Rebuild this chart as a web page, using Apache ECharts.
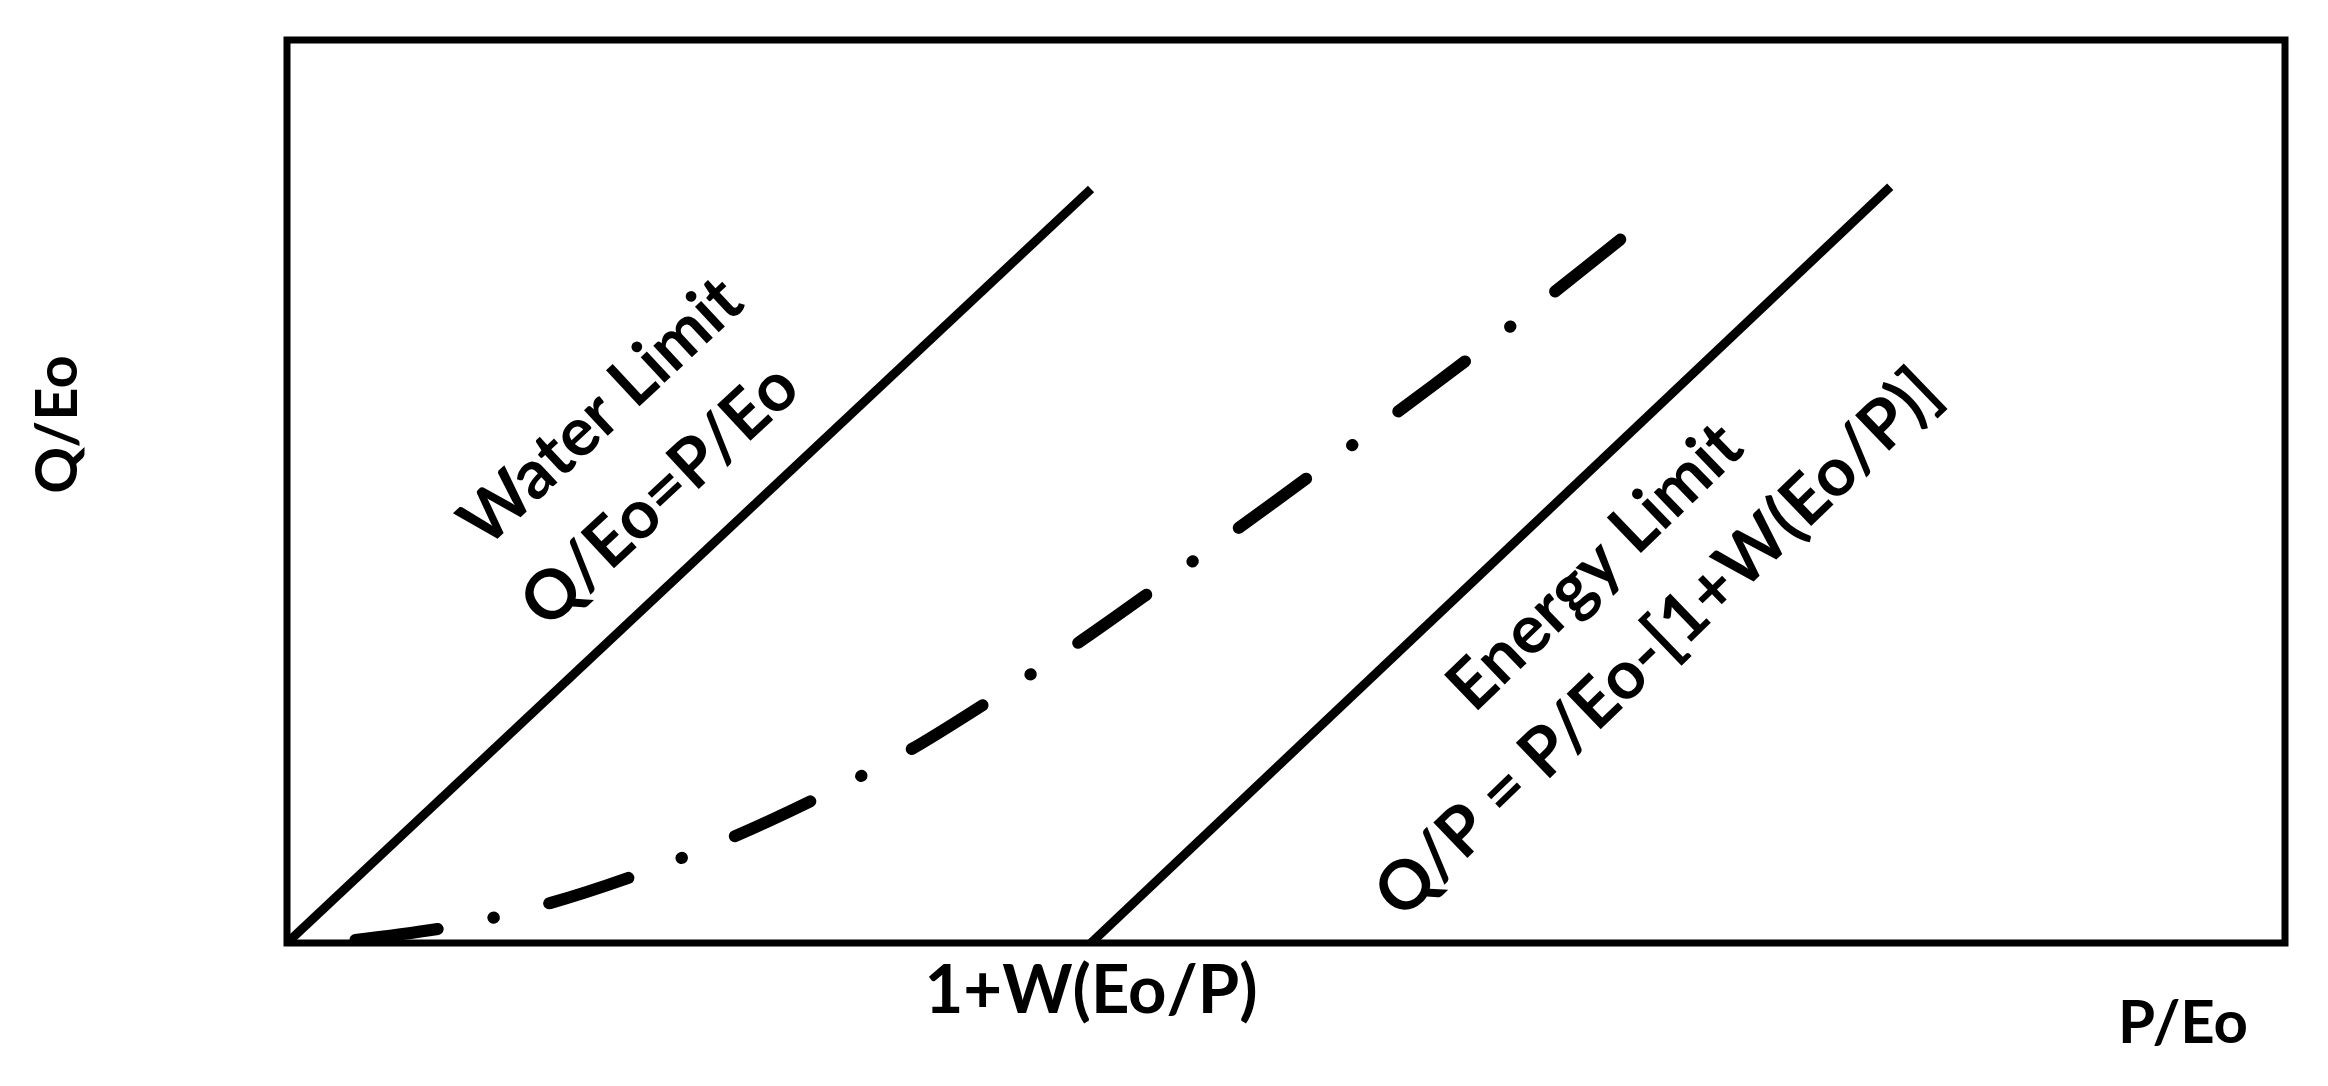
<!DOCTYPE html>
<html>
<head>
<meta charset="utf-8">
<script src="https://cdn.jsdelivr.net/npm/echarts@6/dist/echarts.min.js"></script>
<style>
  html, body { margin: 0; padding: 0; background: #fff; }
  #chart { width: 2328px; height: 1086px; }
</style>
</head>
<body>
<div id="chart"></div>
<script>
// axis texts
var xAxisName = 'P/Eo';
var yAxisName = 'Q/Eo';
var xTickValues = [1];
var xTickLabels = ['1+W(Eo/P)'];

// lines, points are [P/Eo, Q/Eo]
var waterLimit = [[0, 0], [1, 1.002]];
var energyLimit = [[1, 0], [1.994, 1.005]];
var actualCurve = [
  [0.085, 0.004], [0.206, 0.022], [0.327, 0.053], [0.439, 0.092],
  [0.557, 0.142], [0.658, 0.192], [0.774, 0.256], [0.868, 0.318],
  [0.980, 0.396], [1.073, 0.466], [1.179, 0.548], [1.274, 0.622],
  [1.379, 0.704], [1.469, 0.776], [1.568, 0.858], [1.669, 0.944]
];

// annotation texts and where they sit
var noteTexts = ['Water Limit', 'Q/Eo=P/Eo', 'Energy Limit', 'Q/P = P/Eo-[1+W(Eo/P)]'];
var notePoints = [[0.391, 0.706], [0.464, 0.595], [1.627, 0.500], [1.705, 0.398]];

var font = 'Lato';
var chart = echarts.init(document.getElementById('chart'));

var option = {
  animation: false,
  backgroundColor: '#fff',
  grid: {
    left: 287, right: 43, top: 40, bottom: 143,
    show: true,
    borderColor: '#000',
    borderWidth: 7
  },
  xAxis: {
    type: 'value',
    min: 0,
    max: 2.485,
    name: xAxisName,
    nameLocation: 'end',
    nameGap: -102,
    nameTextStyle: {
      color: '#000', fontFamily: font, fontWeight: 'bold', fontSize: 60,
      lineHeight: 60, align: 'center', verticalAlign: 'top',
      padding: [51, 0, 0, 0]
    },
    axisLine: { show: false },
    axisTick: { show: false },
    splitLine: { show: false },
    axisLabel: {
      customValues: xTickValues,
      formatter: function (v) {
        var i = xTickValues.indexOf(v);
        return i >= 0 ? xTickLabels[i] : '';
      },
      margin: 15,
      color: '#000', fontFamily: font, fontWeight: 'bold', fontSize: 67, lineHeight: 67
    }
  },
  yAxis: {
    type: 'value',
    min: 0,
    max: 1.2,
    name: yAxisName,
    nameLocation: 'middle',
    nameRotate: 90,
    nameGap: 200,
    nameTextStyle: {
      color: '#000', fontFamily: font, fontWeight: 'bold', fontSize: 58,
      lineHeight: 58, padding: [0, 0, 0, 134]
    },
    axisLine: { show: false },
    axisTick: { show: false },
    axisLabel: { show: false },
    splitLine: { show: false }
  },
  series: [
    {
      name: 'Water Limit',
      type: 'line',
      data: waterLimit,
      symbol: 'none',
      lineStyle: { color: '#000', width: 9 }
    },
    {
      name: 'Energy Limit',
      type: 'line',
      data: energyLimit,
      symbol: 'none',
      lineStyle: { color: '#000', width: 9 }
    },
    {
      name: 'Actual',
      type: 'line',
      data: actualCurve,
      symbol: 'none',
      smooth: 0.3,
      lineStyle: { color: '#000', width: 12, type: [83, 57, 0.5, 57], cap: 'round' }
    },
    {
      name: 'notes',
      type: 'scatter',
      symbolSize: 0,
      silent: true,
      itemStyle: { color: '#000', opacity: 1 },
      data: notePoints.map(function (p, i) {
        return { name: noteTexts[i], value: p, label: { rotate: i < 2 ? 43 : 44 } };
      }),
      label: {
        show: true,
        position: 'inside',
        formatter: '{b}',
        align: 'center',
        verticalAlign: 'middle',
        opacity: 1,
        color: '#000', textBorderWidth: 0, textBorderColor: 'transparent',
        fontFamily: font, fontWeight: 'bold', fontSize: 68, lineHeight: 68
      }
    }
  ]
};

chart.setOption(option);
</script>
</body>
</html>
